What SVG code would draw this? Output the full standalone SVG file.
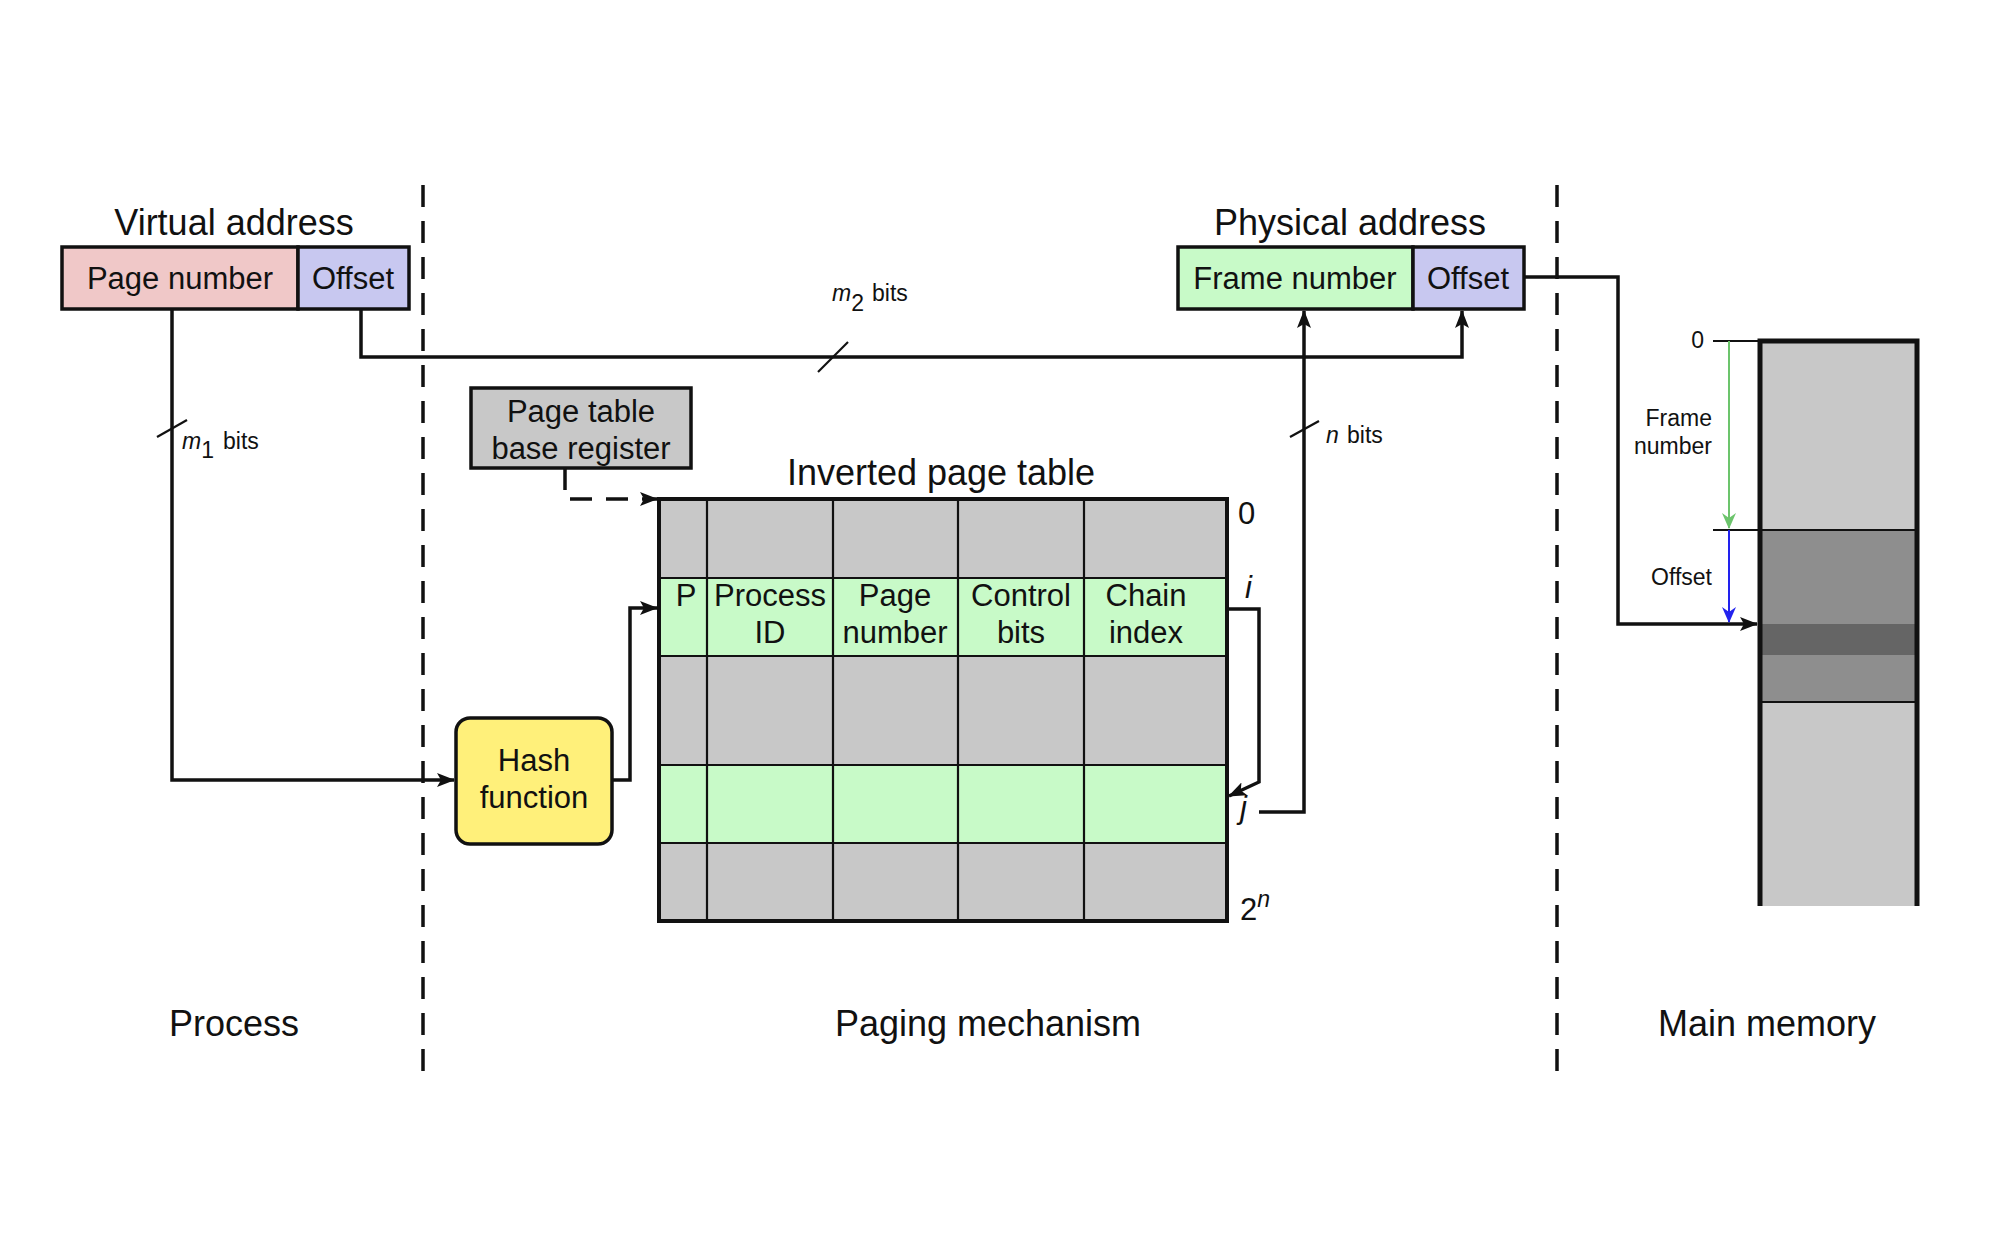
<svg xmlns="http://www.w3.org/2000/svg" width="2000" height="1248" viewBox="0 0 2000 1248">
<style>
text{font-family:"Liberation Sans",Arial,sans-serif;fill:#111}
.t36{font-size:36px}
.t31{font-size:31px}
.t23{font-size:23px}
.box{stroke:#111;stroke-width:3.5}
.ln{fill:none;stroke:#111;stroke-width:3.5}
.thin{fill:none;stroke:#111;stroke-width:2.2}
.dash{fill:none;stroke:#111;stroke-width:3.5;stroke-dasharray:22 14}
</style>
<defs>
<marker id="ah" markerWidth="18" markerHeight="14" refX="17" refY="7" orient="auto" markerUnits="userSpaceOnUse"><path d="M0,0 L18,7 L0,14 L4,7 Z" fill="#111"/></marker>
<marker id="ahg" markerWidth="16" markerHeight="14" refX="15" refY="7" orient="auto" markerUnits="userSpaceOnUse"><path d="M0,0 L16,7 L0,14 L5,7 Z" fill="#6cc46c"/></marker>
<marker id="ahb" markerWidth="16" markerHeight="14" refX="15" refY="7" orient="auto" markerUnits="userSpaceOnUse"><path d="M0,0 L16,7 L0,14 L5,7 Z" fill="#2222ee"/></marker>
</defs>
<rect width="2000" height="1248" fill="#fff"/>

<g id="dividers">
<line class="dash" x1="423" y1="185" x2="423" y2="1072"/>
<line class="dash" x1="1557" y1="185" x2="1557" y2="1072"/>
</g>

<g id="virtual-address">
<text class="t36" x="234" y="235" text-anchor="middle">Virtual address</text>
<rect class="box" x="62" y="247" width="236" height="62" fill="#f0c8c8"/>
<rect class="box" x="298" y="247" width="111" height="62" fill="#c8c8f0"/>
<text class="t31" x="180" y="289" text-anchor="middle">Page number</text>
<text class="t31" x="353" y="289" text-anchor="middle">Offset</text>
</g>

<g id="physical-address">
<text class="t36" x="1350" y="235" text-anchor="middle">Physical address</text>
<rect class="box" x="1178" y="247" width="235" height="62" fill="#c8fac8"/>
<rect class="box" x="1413" y="247" width="111" height="62" fill="#c8c8f0"/>
<text class="t31" x="1295" y="289" text-anchor="middle">Frame number</text>
<text class="t31" x="1468" y="289" text-anchor="middle">Offset</text>
</g>

<g id="ptbr">
<rect class="box" x="471" y="388" width="220" height="80" fill="#c8c8c8"/>
<text class="t31" x="581" y="422" text-anchor="middle">Page table</text>
<text class="t31" x="581" y="459" text-anchor="middle">base register</text>
</g>

<g id="hash-function">
<rect class="box" x="456" y="718" width="156" height="126" rx="14" fill="#fff07a"/>
<text class="t31" x="534" y="771" text-anchor="middle">Hash</text>
<text class="t31" x="534" y="808" text-anchor="middle">function</text>
</g>

<g id="inverted-page-table">
<text class="t36" x="941" y="485" text-anchor="middle">Inverted page table</text>
<rect x="659" y="499" width="568" height="422" fill="#c8c8c8"/>
<rect x="659" y="578" width="568" height="78" fill="#c8fac8"/>
<rect x="659" y="765" width="568" height="78" fill="#c8fac8"/>
<g class="thin">
<line x1="659" y1="578" x2="1227" y2="578"/>
<line x1="659" y1="656" x2="1227" y2="656"/>
<line x1="659" y1="765" x2="1227" y2="765"/>
<line x1="659" y1="843" x2="1227" y2="843"/>
<line x1="707" y1="499" x2="707" y2="921"/>
<line x1="833" y1="499" x2="833" y2="921"/>
<line x1="958" y1="499" x2="958" y2="921"/>
<line x1="1084" y1="499" x2="1084" y2="921"/>
</g>
<rect x="659" y="499" width="568" height="422" fill="none" stroke="#111" stroke-width="4"/>
<text class="t31" x="686" y="606" text-anchor="middle">P</text>
<text class="t31" x="770" y="606" text-anchor="middle">Process</text>
<text class="t31" x="770" y="643" text-anchor="middle">ID</text>
<text class="t31" x="895" y="606" text-anchor="middle">Page</text>
<text class="t31" x="895" y="643" text-anchor="middle">number</text>
<text class="t31" x="1021" y="606" text-anchor="middle">Control</text>
<text class="t31" x="1021" y="643" text-anchor="middle">bits</text>
<text class="t31" x="1146" y="606" text-anchor="middle">Chain</text>
<text class="t31" x="1146" y="643" text-anchor="middle">index</text>
<text class="t31" x="1238" y="524">0</text>
<text class="t31" x="1245" y="598" font-style="italic">i</text>
<text class="t31" x="1240" y="818" font-style="italic">j</text>
<text class="t31" x="1240" y="920">2<tspan font-size="23" dy="-13" font-style="italic">n</tspan></text>
</g>

<g id="main-memory">
<rect x="1760" y="341" width="157" height="565" fill="#c8c8c8"/>
<rect x="1760" y="530" width="157" height="172" fill="#8e8e8e"/>
<rect x="1760" y="624" width="157" height="31" fill="#656565"/>
<line class="thin" x1="1713" y1="341" x2="1760" y2="341"/>
<line class="thin" x1="1713" y1="530" x2="1917" y2="530"/>
<line class="thin" x1="1760" y1="702" x2="1917" y2="702"/>
<path d="M1760,906 V341 H1917 V906" fill="none" stroke="#111" stroke-width="5"/>
<text class="t23" x="1704" y="348" text-anchor="end">0</text>
<text class="t23" x="1712" y="426" text-anchor="end">Frame</text>
<text class="t23" x="1712" y="454" text-anchor="end">number</text>
<text class="t23" x="1712" y="585" text-anchor="end">Offset</text>
</g>

<g id="connectors">
<path class="ln" d="M172,310 V780 H454" marker-end="url(#ah)"/>
<path class="ln" d="M361,310 V357 H1462 V311" marker-end="url(#ah)"/>
<path class="ln" d="M1259,812 H1304 V311" marker-end="url(#ah)"/>
<path class="dash" d="M565,468 V499 H657" stroke-dasharray="12 8" marker-end="url(#ah)"/>
<path class="ln" d="M612,780 H630 V608 H657" marker-end="url(#ah)"/>
<path class="ln" d="M1227,609 H1259 V782 L1229,796" marker-end="url(#ah)"/>
<path class="ln" d="M1524,277 H1618 V624 H1757" marker-end="url(#ah)"/>
<path d="M1729,341 V528" stroke="#6cc46c" stroke-width="2" fill="none" marker-end="url(#ahg)"/>
<path d="M1729,530 V622" stroke="#2222ee" stroke-width="2" fill="none" marker-end="url(#ahb)"/>
<line class="thin" x1="157" y1="437" x2="187" y2="420"/>
<line class="thin" x1="818" y1="372" x2="848" y2="342"/>
<line class="thin" x1="1290" y1="437" x2="1319" y2="421"/>
<text class="t23" x="182" y="449"><tspan font-style="italic">m</tspan><tspan dy="9">1</tspan><tspan dy="-9" x="223">bits</tspan></text>
<text class="t23" x="832" y="301"><tspan font-style="italic">m</tspan><tspan dy="10">2</tspan><tspan dy="-10" x="872">bits</tspan></text>
<text class="t23" x="1326" y="443"><tspan font-style="italic">n</tspan><tspan x="1347">bits</tspan></text>
</g>

<g id="region-labels">
<text class="t36" x="234" y="1036" text-anchor="middle">Process</text>
<text class="t36" x="988" y="1036" text-anchor="middle">Paging mechanism</text>
<text class="t36" x="1767" y="1036" text-anchor="middle">Main memory</text>
</g>
</svg>
